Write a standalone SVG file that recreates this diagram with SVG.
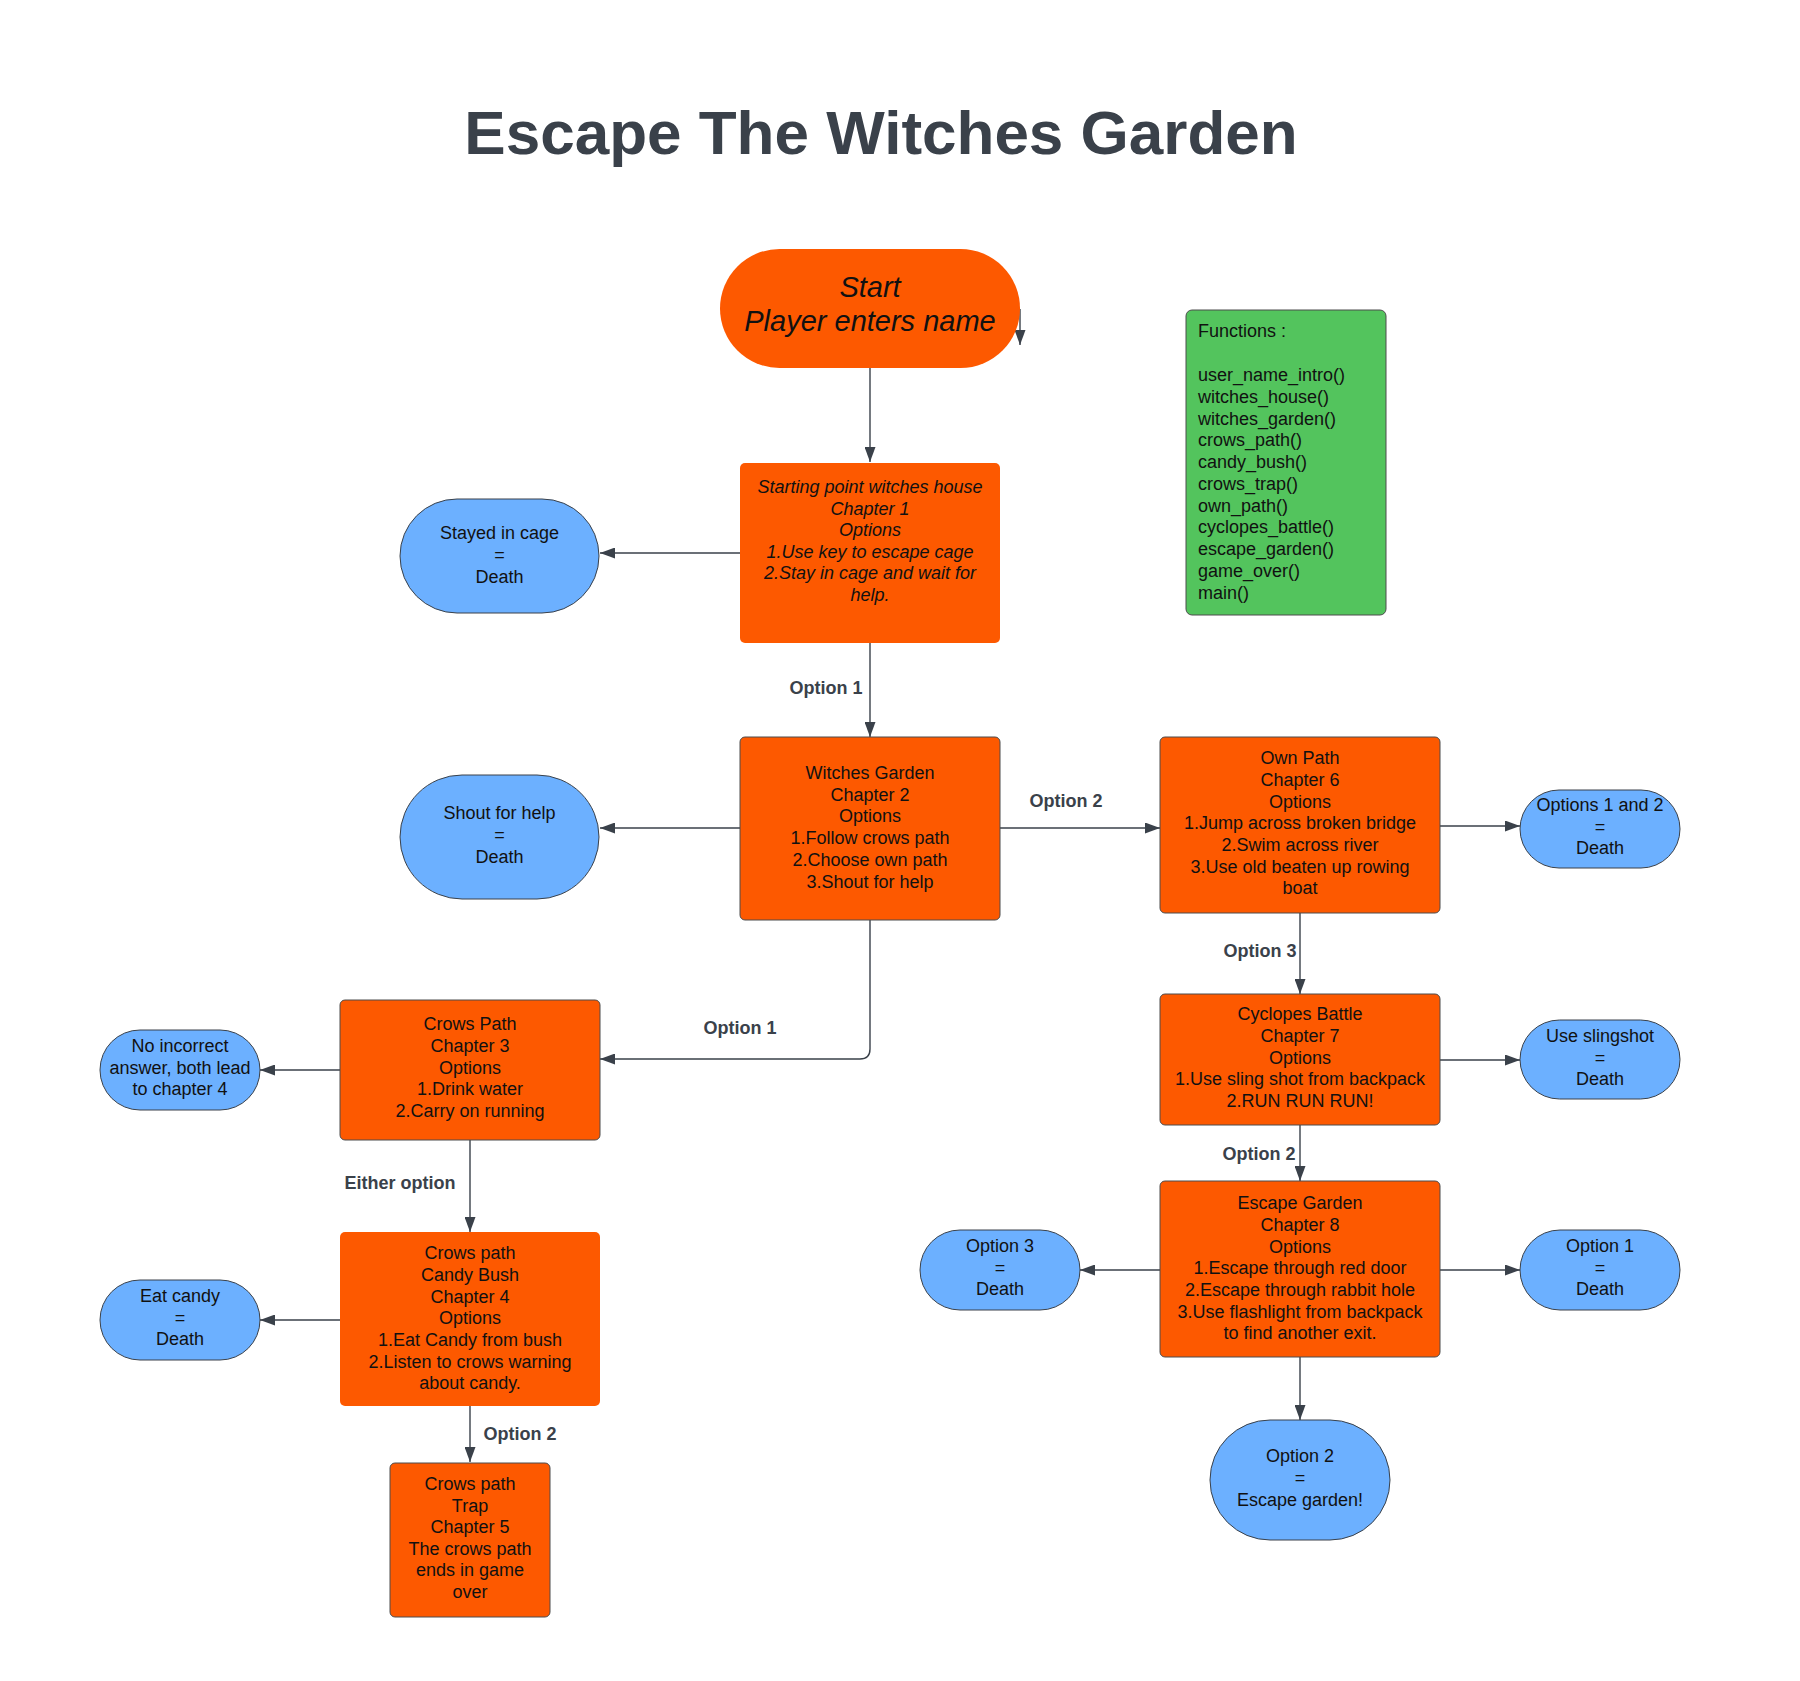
<svg xmlns="http://www.w3.org/2000/svg" width="1800" height="1681" viewBox="0 0 1800 1681">
<defs>
<style>
.box{fill:#fd5900;stroke:#4d4d4d;stroke-width:1}
.box0{fill:#fd5900;stroke:none}
.pill{fill:#6cb0ff;stroke:#3a414a;stroke-width:1}
.fn{fill:#53c45d;stroke:#4d4d4d;stroke-width:1}
.t{font-family:"Liberation Sans",Arial,sans-serif;font-size:18px;fill:#111;text-anchor:middle}
.ti{font-style:italic}
.tl{font-family:"Liberation Sans",Arial,sans-serif;font-size:18px;fill:#111}
.lbl{font-family:"Liberation Sans",Arial,sans-serif;font-size:18px;font-weight:bold;fill:#3a414a;text-anchor:middle}
.title{font-family:"Liberation Sans",Arial,sans-serif;font-size:62px;font-weight:bold;fill:#3a414a;text-anchor:middle}
.c{fill:none;stroke:#3a414a;stroke-width:1.4}
</style>
<marker id="ah" viewBox="0 0 15 11" refX="15" refY="5.5" markerWidth="15" markerHeight="11" orient="auto" markerUnits="userSpaceOnUse">
<path d="M0,0 L15,5.5 L0,11 z" fill="#3a414a"/>
</marker>
</defs>
<rect width="1800" height="1681" fill="#ffffff"/>
<text class="title" x="881" y="154">Escape The Witches Garden</text>

<g id="connectors">
<path class="c" marker-end="url(#ah)" d="M870,368 L870,462"/>
<path class="c" marker-end="url(#ah)" d="M1020,309 L1020,345"/>
<path class="c" marker-end="url(#ah)" d="M740,553 L600,553"/>
<path class="c" marker-end="url(#ah)" d="M870,643 L870,737"/>
<path class="c" marker-end="url(#ah)" d="M740,828 L600,828"/>
<path class="c" marker-end="url(#ah)" d="M1000,828 L1160,828"/>
<path class="c" marker-end="url(#ah)" d="M1440,826 L1520,826"/>
<path class="c" marker-end="url(#ah)" d="M1300,913 L1300,994"/>
<path class="c" marker-end="url(#ah)" d="M1440,1060 L1520,1060"/>
<path class="c" marker-end="url(#ah)" d="M1300,1125 L1300,1181"/>
<path class="c" marker-end="url(#ah)" d="M1160,1270 L1080,1270"/>
<path class="c" marker-end="url(#ah)" d="M1440,1270 L1520,1270"/>
<path class="c" marker-end="url(#ah)" d="M1300,1357 L1300,1420"/>
<path class="c" marker-end="url(#ah)" d="M870,920 L870,1049 Q870,1059 860,1059 L600,1059"/>
<path class="c" marker-end="url(#ah)" d="M340,1070 L260,1070"/>
<path class="c" marker-end="url(#ah)" d="M470,1140 L470,1232"/>
<path class="c" marker-end="url(#ah)" d="M340,1320 L260,1320"/>
<path class="c" marker-end="url(#ah)" d="M470,1406 L470,1462"/>
<text class="lbl" x="826" y="694">Option 1</text>
<text class="lbl" x="1066" y="807">Option 2</text>
<text class="lbl" x="1260" y="957">Option 3</text>
<text class="lbl" x="1259" y="1160">Option 2</text>
<text class="lbl" x="740" y="1034">Option 1</text>
<text class="lbl" x="400" y="1189">Either option</text>
<text class="lbl" x="520" y="1440">Option 2</text>
</g>

<g id="start">
<rect x="720" y="249" width="300" height="119" rx="59.5" fill="#fd5900"/>
<text class="t ti" x="870" y="297" style="font-size:29px">Start</text>
<text class="t ti" x="870" y="331" style="font-size:29px">Player enters name</text>
</g>

<g id="functions">
<rect class="fn" x="1186" y="310" width="200" height="305" rx="6"/>
<text class="tl" x="1198" y="337">Functions :</text>
<text class="tl" x="1198" y="381">user_name_intro()</text>
<text class="tl" x="1198" y="403">witches_house()</text>
<text class="tl" x="1198" y="424.5">witches_garden()</text>
<text class="tl" x="1198" y="446">crows_path()</text>
<text class="tl" x="1198" y="468">candy_bush()</text>
<text class="tl" x="1198" y="490">crows_trap()</text>
<text class="tl" x="1198" y="512">own_path()</text>
<text class="tl" x="1198" y="533">cyclopes_battle()</text>
<text class="tl" x="1198" y="555">escape_garden()</text>
<text class="tl" x="1198" y="577">game_over()</text>
<text class="tl" x="1198" y="599">main()</text>
</g>

<g id="chapter1">
<rect class="box0" x="740" y="463" width="260" height="180" rx="5"/>
<text class="t ti" x="870" y="493">Starting point witches house</text>
<text class="t ti" x="870" y="514.5">Chapter 1</text>
<text class="t ti" x="870" y="536">Options</text>
<text class="t ti" x="870" y="557.5">1.Use key to escape cage</text>
<text class="t ti" x="870" y="579">2.Stay in cage and wait for</text>
<text class="t ti" x="870" y="600.5">help.</text>
</g>

<g id="stayed">
<rect class="pill" x="400" y="499" width="199" height="114" rx="57"/>
<text class="t" x="499.5" y="539">Stayed in cage</text>
<text class="t" x="499.5" y="561">=</text>
<text class="t" x="499.5" y="583">Death</text>
</g>

<g id="chapter2">
<rect class="box" x="740" y="737" width="260" height="183" rx="5"/>
<text class="t" x="870" y="779">Witches Garden</text>
<text class="t" x="870" y="800.5">Chapter 2</text>
<text class="t" x="870" y="822">Options</text>
<text class="t" x="870" y="844">1.Follow crows path</text>
<text class="t" x="870" y="866">2.Choose own path</text>
<text class="t" x="870" y="887.5">3.Shout for help</text>
</g>

<g id="shout">
<rect class="pill" x="400" y="775" width="199" height="124" rx="62"/>
<text class="t" x="499.5" y="819">Shout for help</text>
<text class="t" x="499.5" y="841">=</text>
<text class="t" x="499.5" y="863">Death</text>
</g>

<g id="ownpath">
<rect class="box" x="1160" y="737" width="280" height="176" rx="5"/>
<text class="t" x="1300" y="764">Own Path</text>
<text class="t" x="1300" y="786">Chapter 6</text>
<text class="t" x="1300" y="808">Options</text>
<text class="t" x="1300" y="829">1.Jump across broken bridge</text>
<text class="t" x="1300" y="851">2.Swim across river</text>
<text class="t" x="1300" y="873">3.Use old beaten up rowing</text>
<text class="t" x="1300" y="894">boat</text>
</g>

<g id="opt12death">
<rect class="pill" x="1520" y="790" width="160" height="78" rx="39"/>
<text class="t" x="1600" y="811">Options 1 and 2</text>
<text class="t" x="1600" y="833">=</text>
<text class="t" x="1600" y="854">Death</text>
</g>

<g id="cyclopes">
<rect class="box" x="1160" y="994" width="280" height="131" rx="5"/>
<text class="t" x="1300" y="1020">Cyclopes Battle</text>
<text class="t" x="1300" y="1042">Chapter 7</text>
<text class="t" x="1300" y="1064">Options</text>
<text class="t" x="1300" y="1085">1.Use sling shot from backpack</text>
<text class="t" x="1300" y="1107">2.RUN RUN RUN!</text>
</g>

<g id="slingshot">
<rect class="pill" x="1520" y="1020" width="160" height="79" rx="39.5"/>
<text class="t" x="1600" y="1042">Use slingshot</text>
<text class="t" x="1600" y="1064">=</text>
<text class="t" x="1600" y="1085">Death</text>
</g>

<g id="escape">
<rect class="box" x="1160" y="1181" width="280" height="176" rx="5"/>
<text class="t" x="1300" y="1209">Escape Garden</text>
<text class="t" x="1300" y="1231">Chapter 8</text>
<text class="t" x="1300" y="1253">Options</text>
<text class="t" x="1300" y="1274">1.Escape through red door</text>
<text class="t" x="1300" y="1296">2.Escape through rabbit hole</text>
<text class="t" x="1300" y="1318">3.Use flashlight from backpack</text>
<text class="t" x="1300" y="1339">to find another exit.</text>
</g>

<g id="opt3death">
<rect class="pill" x="920" y="1230" width="160" height="80" rx="40"/>
<text class="t" x="1000" y="1252">Option 3</text>
<text class="t" x="1000" y="1274">=</text>
<text class="t" x="1000" y="1295">Death</text>
</g>

<g id="opt1death">
<rect class="pill" x="1520" y="1230" width="160" height="80" rx="40"/>
<text class="t" x="1600" y="1252">Option 1</text>
<text class="t" x="1600" y="1274">=</text>
<text class="t" x="1600" y="1295">Death</text>
</g>

<g id="opt2escape">
<rect class="pill" x="1210" y="1420" width="180" height="120" rx="60"/>
<text class="t" x="1300" y="1462">Option 2</text>
<text class="t" x="1300" y="1484">=</text>
<text class="t" x="1300" y="1506">Escape garden!</text>
</g>

<g id="crowspath">
<rect class="box" x="340" y="1000" width="260" height="140" rx="5"/>
<text class="t" x="470" y="1030">Crows Path</text>
<text class="t" x="470" y="1052">Chapter 3</text>
<text class="t" x="470" y="1074">Options</text>
<text class="t" x="470" y="1095">1.Drink water</text>
<text class="t" x="470" y="1117">2.Carry on running</text>
</g>

<g id="noincorrect">
<rect class="pill" x="100" y="1030" width="160" height="80" rx="40"/>
<text class="t" x="180" y="1052">No incorrect</text>
<text class="t" x="180" y="1074">answer, both lead</text>
<text class="t" x="180" y="1095">to chapter 4</text>
</g>

<g id="candybush">
<rect class="box0" x="340" y="1232" width="260" height="174" rx="5"/>
<text class="t" x="470" y="1259">Crows path</text>
<text class="t" x="470" y="1281">Candy Bush</text>
<text class="t" x="470" y="1303">Chapter 4</text>
<text class="t" x="470" y="1324">Options</text>
<text class="t" x="470" y="1346">1.Eat Candy from bush</text>
<text class="t" x="470" y="1368">2.Listen to crows warning</text>
<text class="t" x="470" y="1389">about candy.</text>
</g>

<g id="eatcandy">
<rect class="pill" x="100" y="1280" width="160" height="80" rx="40"/>
<text class="t" x="180" y="1302">Eat candy</text>
<text class="t" x="180" y="1324">=</text>
<text class="t" x="180" y="1345">Death</text>
</g>

<g id="trap">
<rect class="box" x="390" y="1463" width="160" height="154" rx="5"/>
<text class="t" x="470" y="1490">Crows path</text>
<text class="t" x="470" y="1511.5">Trap</text>
<text class="t" x="470" y="1533">Chapter 5</text>
<text class="t" x="470" y="1555">The crows path</text>
<text class="t" x="470" y="1576">ends in game</text>
<text class="t" x="470" y="1598">over</text>
</g>
</svg>
